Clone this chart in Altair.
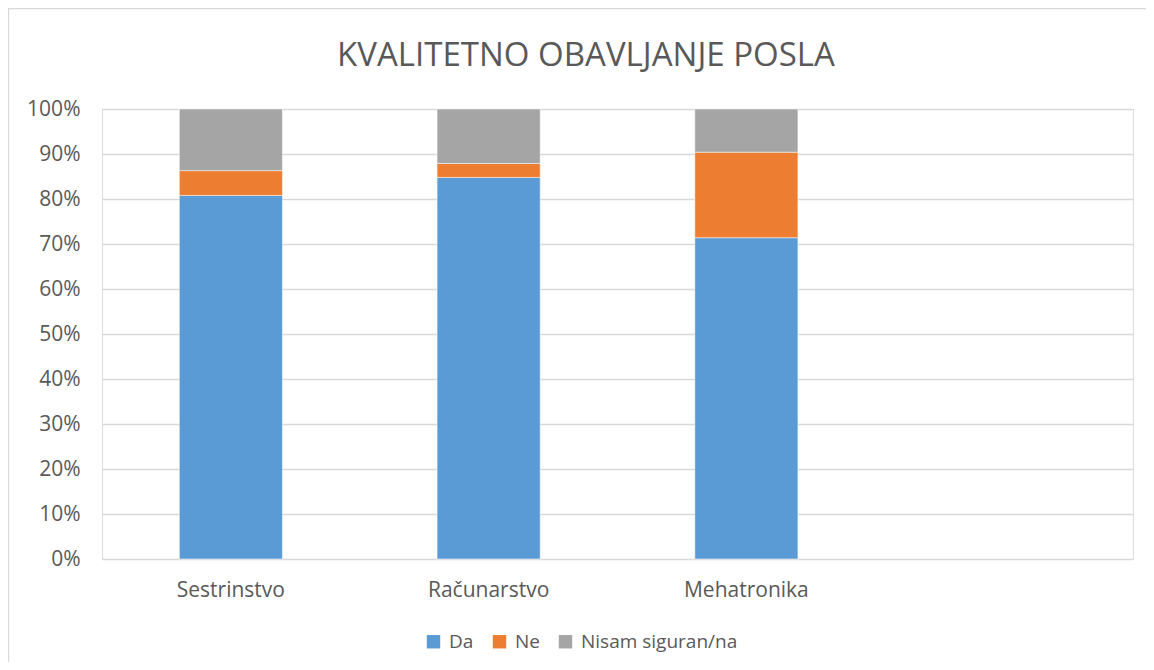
import altair as alt
import pandas as pd

categories = ["Sestrinstvo", "Računarstvo", "Mehatronika"]
domain = ["Sestrinstvo", "Računarstvo", "Mehatronika", " "]
series = ["Da", "Ne", "Nisam siguran/na"]
da = [0.808, 0.848, 0.714]
ne = [0.055, 0.031, 0.190]
nisam = [0.137, 0.121, 0.096]
colors = ["#5B9BD5", "#ED7D31", "#A5A5A5"]
title_text = "KVALITETNO OBAVLJANJE POSLA"

rows = []
for i, c in enumerate(categories):
    for s, vals in zip(series, [da, ne, nisam]):
        rows.append({"kat": c, "odgovor": s, "vrijednost": vals[i], "red": series.index(s)})
df = pd.DataFrame(rows)

FONT = "Open Sans"
GREY = "#595959"
W, H = 1031, 450

bars = alt.Chart(df).mark_bar(stroke="#ffffff", strokeWidth=0.5).encode(
    x=alt.X("kat:N", scale=alt.Scale(domain=domain, paddingInner=0.6, paddingOuter=0.3),
            axis=alt.Axis(title=None, labelAngle=0, labelFontSize=21, labelColor=GREY,
                          labelFont=FONT, ticks=False, domain=False, labelPadding=20,
                          grid=False)),
    y=alt.Y("vrijednost:Q", stack="zero",
            scale=alt.Scale(domain=[0, 1]),
            axis=alt.Axis(title=None, format=".0%", values=[i / 10 for i in range(11)],
                          labelFontSize=21, labelColor=GREY, labelFont=FONT,
                          ticks=False, domain=False, labelPadding=22,
                          gridColor="#D9D9D9", gridWidth=1.3)),
    color=alt.Color("odgovor:N", scale=alt.Scale(domain=series, range=colors),
                    legend=alt.Legend(title=None, orient="none", direction="horizontal",
                                      legendX=322, legendY=523, labelLimit=400,
                                      symbolType="square", symbolSize=180, labelFontSize=19,
                                      labelColor=GREY, labelFont=FONT, labelOffset=6,
                                      columnPadding=16, symbolStrokeWidth=0)),
    order=alt.Order("red:Q", sort="ascending"),
)

border = alt.Chart(pd.DataFrame({"a": [0]})).mark_rect(
    fill=None, stroke="#D9D9D9", strokeWidth=1.3
).encode(x=alt.value(-93.5), x2=alt.value(W + 60), y=alt.value(-100.5), y2=alt.value(H + 200))

title = alt.Chart(pd.DataFrame({"t": [title_text]})).mark_text(
    font=FONT, fontSize=33, color=GREY, align="center", baseline="middle"
).encode(text="t:N", x=alt.value(484), y=alt.value(-53))

chart = alt.layer(border, bars, title).properties(
    width=W, height=H,
    autosize=alt.AutoSizeParams(type="none"),
    padding={"left": 94, "top": 101, "right": 13, "bottom": 103},
).configure_view(stroke=None).configure(background="#ffffff")

chart.save("out.html", embed_options={"renderer": "svg", "actions": False})
